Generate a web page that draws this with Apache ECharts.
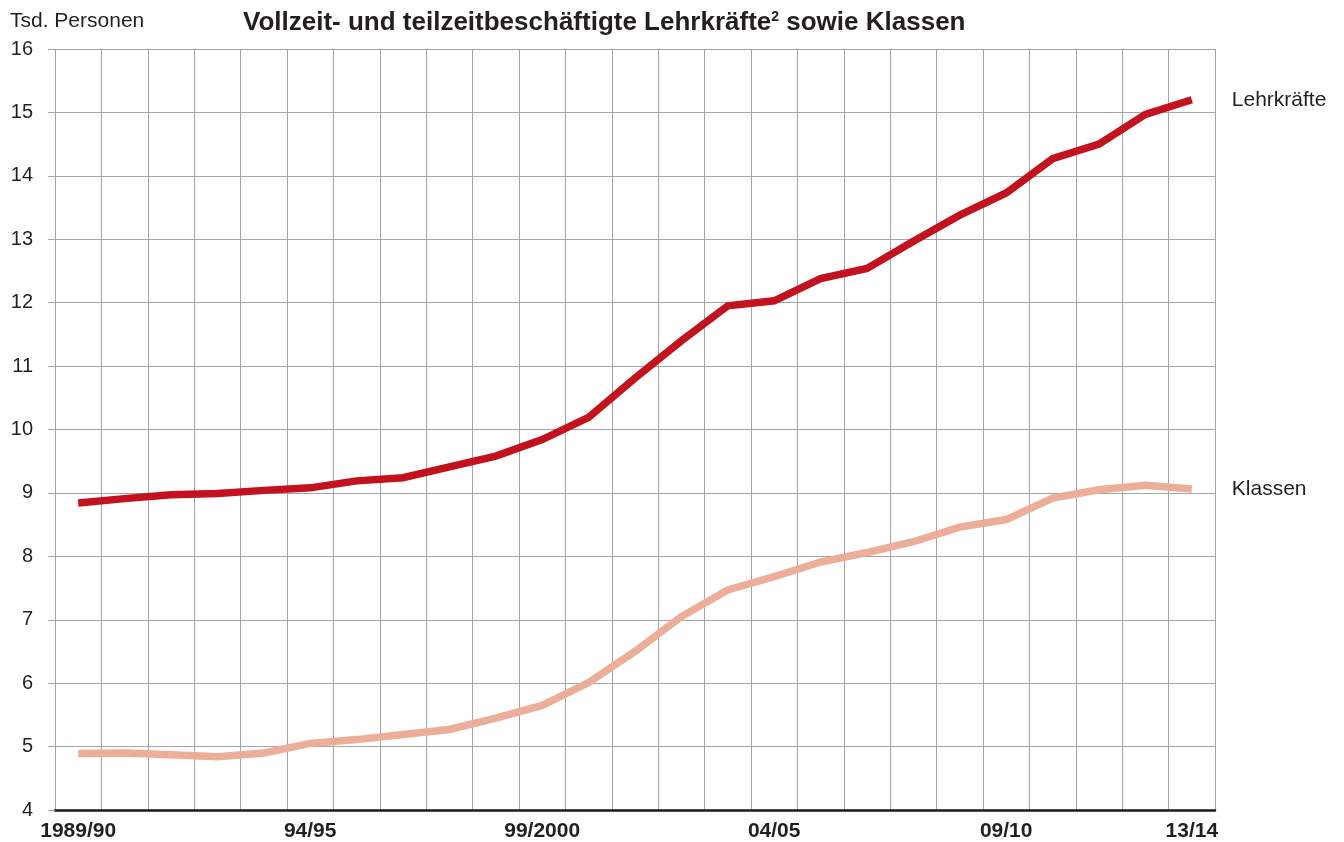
<!DOCTYPE html>
<html>
<head>
<meta charset="utf-8">
<script src="https://cdn.jsdelivr.net/npm/echarts@6/dist/echarts.min.js"></script>
<style>
  html, body { margin: 0; padding: 0; background: #fff; }
  #main { width: 1344px; height: 842px; }
</style>
</head>
<body>
<div id="main"></div>
<script>
// school years on the x axis
const years = ['1989/90', '90/91', '91/92', '92/93', '93/94', '94/95', '95/96', '96/97', '97/98', '98/99',
  '99/2000', '00/01', '01/02', '02/03', '03/04', '04/05', '05/06', '06/07', '07/08', '08/09',
  '09/10', '10/11', '11/12', '12/13', '13/14'];

// values in thousands
const lehrkraefte = [8.84, 8.91, 8.97, 8.99, 9.04, 9.08, 9.19, 9.24, 9.41, 9.58,
  9.84, 10.19, 10.81, 11.40, 11.95, 12.03, 12.38, 12.54, 12.97, 13.38,
  13.73, 14.27, 14.50, 14.97, 15.20];
const klassen = [4.89, 4.90, 4.87, 4.84, 4.90, 5.05, 5.11, 5.19, 5.27, 5.45,
  5.65, 6.01, 6.50, 7.05, 7.47, 7.68, 7.91, 8.06, 8.23, 8.46,
  8.58, 8.92, 9.05, 9.12, 9.06];

// which x labels are shown
const shownLabels = [0, 5, 10, 15, 20, 24];

const font = 'Liberation Sans';
const textColor = '#231f20';
const gridColor = '#a4a4a4';

const myChart = echarts.init(document.getElementById('main'));

function lineSeries(name, data, color) {
  return {
    name: name,
    type: 'line',
    data: data,
    symbol: 'none',
    lineStyle: { color: color, width: 7.5, cap: 'butt', join: 'miter' },
    endLabel: {
      show: true,
      formatter: () => name,
      distance: 40,
      fontFamily: font,
      fontSize: 21,
      color: textColor
    }
  };
}

const options = {
  animation: false,
  title: [{
    text: 'Vollzeit- und teilzeitbeschäftigte Lehrkräfte{sup|2} sowie Klassen',
    left: 243,
    top: 10,
    padding: 0,
    textStyle: {
      fontFamily: font,
      fontSize: 26,
      fontWeight: 'bold',
      color: textColor,
      rich: {
        sup: { fontFamily: font, fontSize: 14, fontWeight: 'bold', color: textColor, verticalAlign: 'top', lineHeight: 15 }
      }
    }
  }, {
    text: 'Tsd. Personen',
    left: 10,
    top: 11,
    padding: 0,
    textStyle: { fontFamily: font, fontSize: 21, fontWeight: 'normal', color: textColor }
  }],
  grid: { left: 55, right: 129, top: 49, bottom: 31, containLabel: false },
  xAxis: {
    type: 'category',
    data: years,
    boundaryGap: true,
    axisLine: { show: true, lineStyle: { color: '#1a1a1a', width: 2.5 } },
    axisTick: { show: false },
    splitLine: { show: true, interval: 0, lineStyle: { color: gridColor, width: 1 } },
    axisLabel: {
      interval: (i) => shownLabels.includes(i),
      margin: 11,
      fontFamily: font,
      fontSize: 21,
      fontWeight: 'bold',
      color: textColor
    }
  },
  yAxis: {
    type: 'value',
    min: 4,
    max: 16,
    interval: 1,
    axisLine: { show: false },
    axisTick: { show: true, length: 7, lineStyle: { color: gridColor, width: 1 } },
    splitLine: { show: true, lineStyle: { color: gridColor, width: 1 } },
    axisLabel: { margin: 22, fontFamily: font, fontSize: 20, color: textColor }
  },
  series: [
    lineSeries('Lehrkräfte', lehrkraefte, '#c3121e'),
    lineSeries('Klassen', klassen, '#ecae98')
  ]
};

myChart.setOption(options);
</script>
</body>
</html>
